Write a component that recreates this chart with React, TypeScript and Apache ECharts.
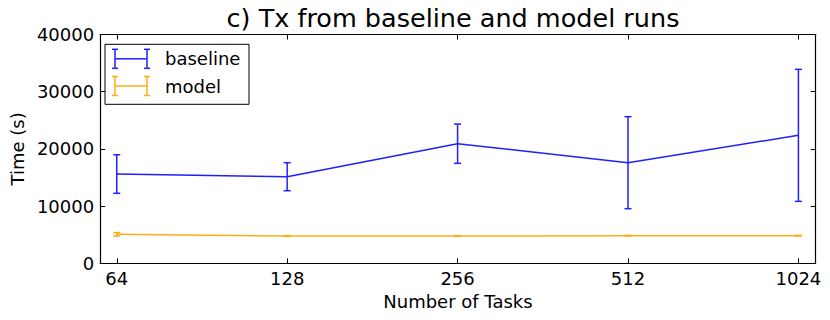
import React, { useEffect, useRef } from "react";
import * as echarts from "echarts";

const tasks = [64, 128, 256, 512, 1024];
const baselineMean = [15610, 15140, 20910, 17590, 22370];
const baselineErr = [3370, 2450, 3430, 8040, 11540];
const modelMean = [5070, 4770, 4770, 4830, 4830];
const modelErr = [300, 60, 60, 60, 60];
const yTicks = [0, 10000, 20000, 30000, 40000];

const BLUE = "#2020ff";
const ORANGE = "#ffae1a";
const FONT = "DejaVu Sans";
const FS = 18;

function errData(mean: number[], err: number[]) {
  return tasks.map((t, i) => [t, mean[i] - err[i], mean[i] + err[i]]);
}

function errRender(color: string) {
  return (params: any, api: any) => {
    const x = api.value(0);
    const lo = api.coord([x, api.value(1)]);
    const hi = api.coord([x, api.value(2)]);
    const hw = 3.5;
    const style = { stroke: color, lineWidth: 1.5 };
    return {
      type: "group",
      children: [
        { type: "line", shape: { x1: lo[0], y1: lo[1], x2: hi[0], y2: hi[1] }, style },
        { type: "line", shape: { x1: lo[0] - hw, y1: lo[1], x2: lo[0] + hw, y2: lo[1] }, style },
        { type: "line", shape: { x1: hi[0] - hw, y1: hi[1], x2: hi[0] + hw, y2: hi[1] }, style },
      ],
    };
  };
}

function legendEntry(y: number, color: string, label: string) {
  const s = { stroke: color, lineWidth: 1.5 };
  return [
    { type: "line", shape: { x1: 115, y1: y, x2: 147, y2: y }, style: s },
    { type: "line", shape: { x1: 115, y1: y - 9.5, x2: 115, y2: y + 9.5 }, style: s },
    { type: "line", shape: { x1: 147, y1: y - 9.5, x2: 147, y2: y + 9.5 }, style: s },
    { type: "line", shape: { x1: 112, y1: y - 9.5, x2: 118, y2: y - 9.5 }, style: s },
    { type: "line", shape: { x1: 112, y1: y + 9.5, x2: 118, y2: y + 9.5 }, style: s },
    { type: "line", shape: { x1: 144, y1: y - 9.5, x2: 150, y2: y - 9.5 }, style: s },
    { type: "line", shape: { x1: 144, y1: y + 9.5, x2: 150, y2: y + 9.5 }, style: s },
    {
      type: "text",
      x: 165,
      y: y,
      style: { text: label, fontSize: FS, fontFamily: FONT, fill: "#000", textVerticalAlign: "middle" },
    },
  ];
}

export default function App() {
  const ref = useRef<HTMLDivElement>(null);
  useEffect(() => {
    if (!ref.current) return;
    const chart = echarts.init(ref.current, undefined, { renderer: "svg" });
    const xMin = 59.82;
    const xMax = 1098.6;
    const tickStyle = { show: true, inside: true, length: 5, lineStyle: { color: "#000" } };
    const lineStyle = { show: true, onZero: false, lineStyle: { color: "#000", width: 1.2 } };
    chart.setOption({
      animation: false,
      backgroundColor: "#fff",
      title: {
        text: "c) Tx from baseline and model runs",
        left: 453,
        top: 5,
        padding: 0,
        textAlign: "center",
        textStyle: { fontSize: 25.5, fontWeight: "normal", fontFamily: FONT, color: "#000" },
      },
      grid: { left: 96, right: 14.3, top: 34.5, bottom: 56.7 },
      xAxis: [
        {
          type: "log",
          logBase: 2,
          min: xMin,
          max: xMax,
          position: "bottom",
          name: "Number of Tasks",
          nameLocation: "middle",
          nameGap: 27,
          nameTextStyle: { fontSize: FS, fontFamily: FONT, color: "#000", verticalAlign: "top" },
          axisLine: lineStyle,
          axisTick: tickStyle,
          minorTick: { show: false },
          splitLine: { show: false },
          axisLabel: {
            fontSize: FS,
            fontFamily: FONT,
            color: "#000",
            margin: 6,
            showMinLabel: false,
            showMaxLabel: false,
            formatter: (v: number) => String(Math.round(v)),
          },
        },
        {
          type: "log",
          logBase: 2,
          min: xMin,
          max: xMax,
          position: "top",
          axisLine: lineStyle,
          axisTick: tickStyle,
          splitLine: { show: false },
          axisLabel: { show: false },
        },
      ],
      yAxis: [
        {
          type: "value",
          min: 0,
          max: 40000,
          interval: 10000,
          position: "left",
          name: "Time (s)",
          nameLocation: "middle",
          nameGap: 69,
          nameRotate: 90,
          nameTextStyle: { fontSize: FS, fontFamily: FONT, color: "#000" },
          axisLine: lineStyle,
          axisTick: tickStyle,
          splitLine: { show: false },
          axisLabel: {
            fontSize: FS,
            fontFamily: FONT,
            color: "#000",
            margin: 6,
            formatter: (v: number) => (yTicks.includes(v) ? String(v) : ""),
          },
        },
        {
          type: "value",
          min: 0,
          max: 40000,
          interval: 10000,
          position: "right",
          axisLine: lineStyle,
          axisTick: tickStyle,
          splitLine: { show: false },
          axisLabel: { show: false },
        },
      ],
      series: [
        {
          name: "baseline",
          type: "line",
          data: tasks.map((t, i) => [t, baselineMean[i]]),
          showSymbol: false,
          symbol: "none",
          lineStyle: { color: BLUE, width: 1.5 },
          itemStyle: { color: BLUE },
          z: 3,
        },
        {
          name: "baseline",
          type: "custom",
          data: errData(baselineMean, baselineErr),
          encode: { x: 0, y: [1, 2] },
          renderItem: errRender(BLUE),
          z: 3,
        },
        {
          name: "model",
          type: "line",
          data: tasks.map((t, i) => [t, modelMean[i]]),
          showSymbol: false,
          symbol: "none",
          lineStyle: { color: ORANGE, width: 1.5 },
          itemStyle: { color: ORANGE },
          z: 2,
        },
        {
          name: "model",
          type: "custom",
          data: errData(modelMean, modelErr),
          encode: { x: 0, y: [1, 2] },
          renderItem: errRender(ORANGE),
          z: 2,
        },
      ],
      graphic: [
        {
          type: "rect",
          shape: { x: 105, y: 44.3, width: 144, height: 60 },
          style: { fill: "#fff", stroke: "#000", lineWidth: 1 },
          z: 10,
        },
        ...legendEntry(58.8, BLUE, "baseline").map((e) => ({ ...e, z: 11 })),
        ...legendEntry(86, ORANGE, "model").map((e) => ({ ...e, z: 11 })),
      ],
    });
    return () => chart.dispose();
  }, []);
  return (
    <div
      ref={ref}
      style={{ position: "absolute", left: 0, top: 0, width: 830, height: 320 }}
    />
  );
}
